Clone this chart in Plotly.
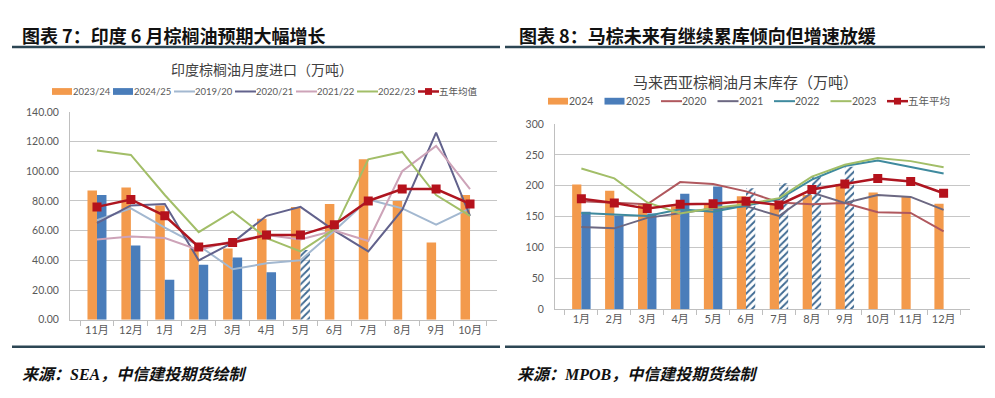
import plotly.graph_objects as go

# ---------------- Left chart: India palm oil monthly imports (10k t) ----------------
l_months = ["11月", "12月", "1月", "2月", "3月", "4月", "5月", "6月", "7月", "8月", "9月", "10月"]
l_2324 = [87, 89, 77, 48, 48, 68, 76, 78, 108, 80, 52, 84]
l_2425 = [84, 50, 27, 37, 42, 32, None, None, None, None, None, None]
l_2425_fc = [None, None, None, None, None, None, 47, None, None, None, None, None]
l_1920 = [67, 75, 62, 50, 34, 38, 40, 60, 81, 75, 64, 75]
l_2021 = [65, 77, 78, 40, 52, 70, 76, 60, 46, 74, 126, 70]
l_2122 = [54, 56, 55, 47, 53, 57, 54, 60, 53, 100, 117, 88]
l_2223 = [114, 111, 84, 59, 73, 55, 46, 61, 108, 113, 84, 70]
l_avg = [76, 81, 70, 49, 52, 57, 57, 64, 80, 88, 88, 78]
l_names = ["2023/24", "2024/25", "2019/20", "2020/21", "2021/22", "2022/23", "五年均值"]

# ---------------- Right chart: Malaysia palm oil month-end stocks (10k t) ----------------
r_months = ["1月", "2月", "3月", "4月", "5月", "6月", "7月", "8月", "9月", "10月", "11月", "12月"]
r_2024 = [202, 192, 172, 167, 169, 183, 169, 185, 203, 189, 182, 171]
r_2025 = [158, 152, 155, 187, 199, None, None, None, None, None, None, None]
r_2025_fc = [None, None, None, None, None, 196, 204, 214, 231, None, None, None]
r_2020 = [175, 172, 170, 206, 203, 191, 173, 170, 172, 157, 156, 126]
r_2021 = [133, 131, 148, 155, 163, 167, 151, 189, 172, 185, 182, 161]
r_2022 = [156, 153, 151, 162, 158, 168, 178, 210, 232, 241, 231, 220]
r_2023 = [228, 212, 173, 155, 164, 170, 180, 215, 234, 245, 240, 230]
r_avg = [179, 172, 163, 170, 171, 175, 169, 194, 203, 212, 207, 188]
r_names = ["2024", "2025", "2020", "2021", "2022", "2023", "五年平均"]

# page body has an 8px margin: figure is sized to fill the 995x398 window exactly
OFF = 8
W, H = 995 - 2 * OFF, 398 - 2 * OFF
ORANGE = "#F39A4C"
BLUE = "#4A7DBA"
HATCH = "#3F6A92"
AVG = "#AE1520"
L_COLORS = [ORANGE, BLUE, "#A3B8D0", "#62628C", "#CDA3B8", "#A2BE68", AVG]
R_COLORS = [ORANGE, BLUE, "#B0585E", "#6C6882", "#3F8A9E", "#A2BE68", AVG]

CJK = "Noto Sans CJK SC"
TICKFONT = dict(family="Lato, " + CJK, size=11, color="#595959")


def px(x):
    return (x - OFF) / W


def py(y):
    return 1 - (y - OFF) / H


fig = go.Figure()


def add_panel(months, bar_a, bar_b, bar_b_fc, lines, avg, colors, xa, ya):
    fig.add_trace(go.Bar(x=months, y=bar_a, marker=dict(color=colors[0], line=dict(width=0)),
                         xaxis=xa, yaxis=ya, showlegend=False))
    comb = [a if a is not None else f for a, f in zip(bar_b, bar_b_fc)]
    fc_mask = [f is not None for f in bar_b_fc]
    fig.add_trace(go.Bar(
        x=months, y=comb, xaxis=xa, yaxis=ya, showlegend=False,
        marker=dict(
            color=[HATCH if m else colors[1] for m in fc_mask],
            line=dict(width=0),
            pattern=dict(shape=["/" if m else "" for m in fc_mask],
                         bgcolor="white", size=5, solidity=0.38, fillmode="replace"),
        )))
    for vals, col in zip(lines, colors[2:6]):
        fig.add_trace(go.Scatter(x=months, y=vals, mode="lines", line=dict(color=col, width=2),
                                 xaxis=xa, yaxis=ya, showlegend=False))
    fig.add_trace(go.Scatter(x=months, y=avg, mode="lines+markers",
                             line=dict(color=colors[6], width=2.5),
                             marker=dict(symbol="square", size=9, color="#B5121C"),
                             xaxis=xa, yaxis=ya, showlegend=False))


add_panel(l_months, l_2324, l_2425, l_2425_fc, [l_1920, l_2021, l_2122, l_2223], l_avg, L_COLORS, "x", "y")
add_panel(r_months, r_2024, r_2025, r_2025_fc, [r_2020, r_2021, r_2022, r_2023], r_avg, R_COLORS, "x2", "y2")

xcommon = dict(type="category", showline=True, linecolor="#BFBFBF", linewidth=1,
               ticks="outside", tickson="boundaries", ticklen=5, tickcolor="#BFBFBF",
               showgrid=False, tickfont=TICKFONT, fixedrange=True)
ycommon = dict(showline=True, linecolor="#BFBFBF", linewidth=1, showgrid=True,
               gridcolor="#C6C6C6", gridwidth=1, zeroline=False, ticks="",
               tickfont=dict(family="Lato", size=10.5, color="#595959"), ticklabelstandoff=8)

fig.update_layout(
    width=W, height=H, margin=dict(l=0, r=0, t=0, b=0),
    paper_bgcolor="white", plot_bgcolor="white",
    barmode="group", bargap=0.44, bargroupgap=0,
    showlegend=False,
    xaxis=dict(domain=[px(70), px(497)], anchor="y", **xcommon),
    yaxis=dict(domain=[py(323.7), py(109)], anchor="x", range=[0, 140], dtick=20,
               tickformat=".2f", **ycommon),
    xaxis2=dict(domain=[px(555), px(970)], anchor="y2", **xcommon),
    yaxis2=dict(domain=[py(312.7), py(121.7)], anchor="x2", range=[0, 300], dtick=50,
                **ycommon),
)

shapes = []
annotations = []

# Header / footer rules
RULE = "#2C4654"
for (x0, x1) in [(12, 500), (505, 985)]:
    shapes.append(dict(type="line", xref="paper", yref="paper", x0=px(x0), x1=px(x1),
                       y0=py(42), y1=py(42), line=dict(color=RULE, width=2.5)))
    shapes.append(dict(type="line", xref="paper", yref="paper", x0=px(x0), x1=px(x1),
                       y0=py(351.5), y1=py(351.5), line=dict(color=RULE, width=2.5)))

PAD = 3  # annotation inner padding
# Panel titles
annotations.append(dict(text="图表 7：印度 6 月棕榈油预期大幅增长", x=px(23 - PAD), y=py(30), xref="paper", yref="paper",
                        xanchor="left", yanchor="middle", showarrow=False,
                        font=dict(family=CJK, size=18, color="#111111", weight="bold")))
annotations.append(dict(text="图表 8：马棕未来有继续累库倾向但增速放缓", x=px(520 - PAD), y=py(30), xref="paper", yref="paper",
                        xanchor="left", yanchor="middle", showarrow=False,
                        font=dict(family=CJK, size=18, color="#111111", weight="bold")))

# Chart titles
annotations.append(dict(text="印度棕榈油月度进口（万吨）", x=px(262), y=py(65), xref="paper", yref="paper",
                        xanchor="center", yanchor="middle", showarrow=False,
                        font=dict(family=CJK, size=14, color="#404040")))
annotations.append(dict(text="马来西亚棕榈油月末库存（万吨）", x=px(745), y=py(78), xref="paper", yref="paper",
                        xanchor="center", yanchor="middle", showarrow=False,
                        font=dict(family=CJK, size=15, color="#404040")))

# Sources
SRC_FONT = dict(family="Liberation Serif, " + CJK, size=16, color="#111111", weight="bold", style="italic")
annotations.append(dict(text="来源：SEA，中信建投期货绘制", x=px(23 - PAD), y=py(380), xref="paper", yref="paper",
                        xanchor="left", yanchor="middle", showarrow=False, font=SRC_FONT))
annotations.append(dict(text="来源：MPOB，中信建投期货绘制", x=px(518 - PAD), y=py(380), xref="paper", yref="paper",
                        xanchor="left", yanchor="middle", showarrow=False, font=SRC_FONT))


def legend(names, colors, x_start, stride, y, fsize):
    font = dict(family="Lato, " + CJK, size=fsize, color="#595959")
    for i, (name, col) in enumerate(zip(names, colors)):
        x0 = x_start + i * stride
        if i < 2:
            shapes.append(dict(type="rect", xref="paper", yref="paper", x0=px(x0), x1=px(x0 + 20),
                               y0=py(y + 3.5), y1=py(y - 3.5), fillcolor=col, line=dict(width=0)))
        else:
            shapes.append(dict(type="line", xref="paper", yref="paper", x0=px(x0), x1=px(x0 + 21),
                               y0=py(y), y1=py(y), line=dict(color=col, width=2.5 if i == 6 else 2)))
            if i == 6:
                shapes.append(dict(type="rect", xref="paper", yref="paper", x0=px(x0 + 7), x1=px(x0 + 14),
                                   y0=py(y + 3.5), y1=py(y - 3.5), fillcolor="#B5121C", line=dict(width=0)))
        annotations.append(dict(text=name, x=px(x0 + 22 - PAD), y=py(y), xref="paper", yref="paper",
                                xanchor="left", yanchor="middle", showarrow=False, font=font))


legend(l_names, L_COLORS, 52, 61, 88, 9.5)
legend(r_names, R_COLORS, 548, 56.5, 98, 10.5)

fig.update_layout(shapes=shapes, annotations=annotations)
fig.write_html("out.html")
